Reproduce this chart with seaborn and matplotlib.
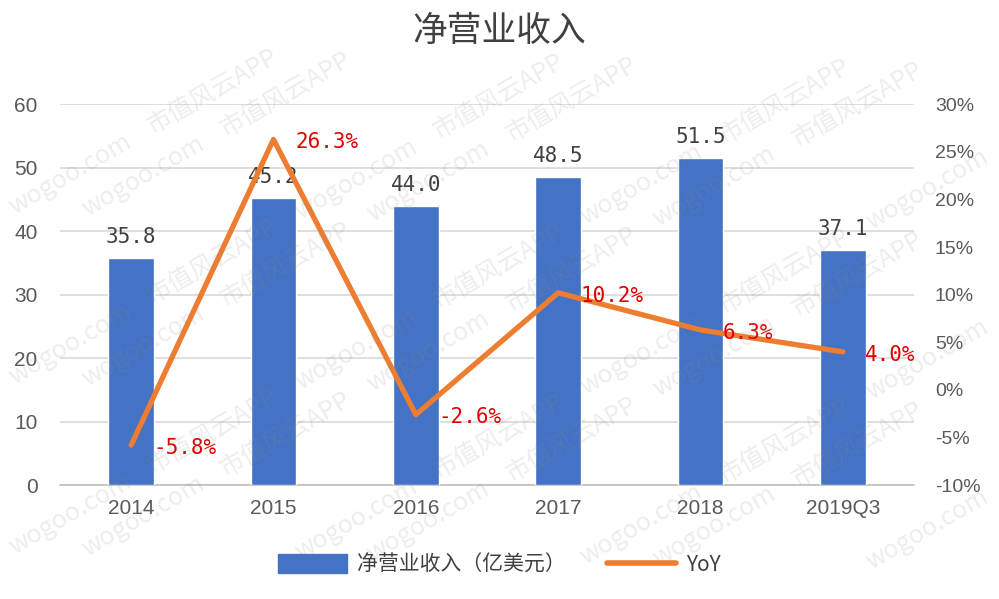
import numpy as np
import pandas as pd
import matplotlib
matplotlib.use("Agg")
import matplotlib.pyplot as plt
import seaborn as sns
from matplotlib.patches import Patch
from matplotlib.lines import Line2D
from matplotlib.ticker import FuncFormatter

# ---- data ----
categories = ["2014", "2015", "2016", "2017", "2018", "2019Q3"]
revenue = [35.8, 45.2, 44.0, 48.5, 51.5, 37.1]          # 亿美元
yoy = [-5.8, 26.3, -2.6, 10.2, 6.3, 4.0]                 # %
left_ticks = [0, 10, 20, 30, 40, 50, 60]
right_ticks = [-10, -5, 0, 5, 10, 15, 20, 25, 30]
title = "净营业收入"
bar_label = "净营业收入（亿美元）"
line_label = "YoY"
watermarks = ["市值风云APP", "wogoo.com"]

BLUE = "#4472C4"
ORANGE = "#ED7D31"
RED = "#E00000"
GRID = "#D9D9D9"
TICK = "#595959"
CJK = ["Noto Sans CJK SC", "DejaVu Sans"]
MONO = ["DejaVu Sans Mono", "DejaVu Sans"]

sns.set_theme(style="white")
plt.rcParams["font.family"] = ["Liberation Sans", "Noto Sans CJK SC", "DejaVu Sans"]

df = pd.DataFrame({"cat": categories, "rev": revenue, "yoy": yoy})

W, H = 999, 599
fig = plt.figure(figsize=(9.99, 5.99), dpi=100)
ax = fig.add_axes([0.060, 0.190, 0.855, 0.636])

# faint diagonal watermark (decoration of the reference image)
deg = 30
ang = np.deg2rad(deg)
step = 165
for r in range(-14, 14):
    for c in range(-2, 12):
        px = c * step * np.cos(ang) + (r % 2) * 70
        py = r * 85 + c * step * np.sin(ang)
        if 55 < px < W - 55 and 30 < py < H - 38:
            fig.text(px / W, py / H, watermarks[(c + r) % 2], rotation=deg,
                     fontsize=18, color="#909090", alpha=0.16, family=CJK,
                     ha="center", va="center", zorder=0)

sns.barplot(data=df, x="cat", y="rev", ax=ax, color=BLUE, width=0.32,
            saturation=1, zorder=3)
ax.set_ylim(0, 60)
ax.set_xlim(-0.5, len(categories) - 0.5)
ax.set_yticks(left_ticks)
ax.set_yticklabels([str(t) for t in left_ticks])
ax.yaxis.grid(True, color=GRID, linewidth=1.2, zorder=0)
ax.set_axisbelow(True)
ax.patch.set_alpha(0)
for s in ["top", "right", "left"]:
    ax.spines[s].set_visible(False)
ax.spines["bottom"].set_color("#BFBFBF")
ax.spines["bottom"].set_linewidth(1.2)
ax.set_xlabel("")
ax.set_ylabel("")
ax.tick_params(axis="y", length=0, pad=16, labelsize=15, labelcolor=TICK)
ax.tick_params(axis="x", length=0, pad=10, labelsize=15, labelcolor=TICK)

for c in ax.containers:
    ax.bar_label(c, labels=[f"{v:.1f}" for v in revenue], padding=8,
                 fontsize=15, color="#404040", family=MONO, zorder=5)

ax2 = ax.twinx()
sns.lineplot(x=np.arange(len(categories)), y=yoy, ax=ax2, color=ORANGE,
             linewidth=3.8, sort=False, zorder=4)
ax2.set_ylim(-10, 30)
ax2.set_xlim(-0.5, len(categories) - 0.5)
ax2.set_yticks(right_ticks)
ax2.yaxis.set_major_formatter(FuncFormatter(lambda v, p: f"{v:.0f}%"))
for s in ["top", "right", "left", "bottom"]:
    ax2.spines[s].set_visible(False)
ax2.tick_params(axis="y", length=0, pad=15, labelsize=14, labelcolor=TICK)
ax2.set_ylabel("")
ax2.grid(False)

for i, v in enumerate(yoy):
    ax2.annotate(f"{v:.1f}%", (i, v), xytext=(16, -2), textcoords="offset points",
                 ha="left", va="center", fontsize=15, color=RED, family=MONO,
                 zorder=6)

fig.text(0.5, 0.947, title, ha="center", va="center", fontsize=25,
         color="#404040", family=CJK)

handles = [Patch(facecolor=BLUE, edgecolor=BLUE),
           Line2D([0], [0], color=ORANGE, linewidth=4, solid_capstyle="round")]
leg = fig.legend(handles, [bar_label, line_label], loc="center",
                 bbox_to_anchor=(0.5, 0.057), ncol=2, frameon=False,
                 prop={"family": CJK, "size": 15}, handlelength=3.3,
                 handleheight=1.0, columnspacing=2.0, handletextpad=0.5)
for t in leg.get_texts():
    t.set_color("#404040")

fig.savefig("out.png", dpi=100)
